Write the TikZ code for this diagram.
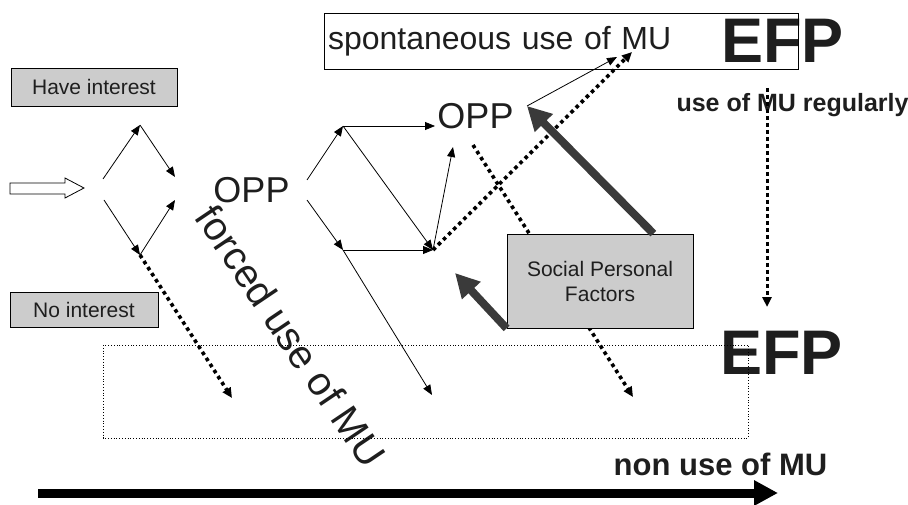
\documentclass[tikz,border=0pt]{standalone}
\usepackage{fontspec}
\setmainfont{Liberation Sans}
\usetikzlibrary{arrows.meta, positioning}

\definecolor{boxgray}{HTML}{CCCCCC}
\definecolor{heavygray}{HTML}{3A3A3A}
\definecolor{inkgray}{HTML}{1E1E1E}

\begin{document}
\begin{tikzpicture}[x=1pt, y=-1pt, text=inkgray,
    thinarrow/.style={-{Triangle[length=10pt, width=8pt]}, line width=0.8pt},
    dotarrow/.style={-{Triangle[length=10pt, width=9pt]}, line width=3.6pt, dash pattern=on 3.6pt off 3.6pt},
    heavyarrow/.style={-{Triangle[length=24pt, width=24pt]}, line width=8pt, draw=heavygray, fill=heavygray},
    graybox/.style={draw, fill=boxgray, line width=0.8pt, inner sep=2pt, font=\fontsize{21}{25}\selectfont}]
  \useasboundingbox (0,0) rectangle (908,505);

  % Big labels
  \node[font=\fontsize{63}{63}\selectfont\bfseries, anchor=base] (efptop) at (782.5,63) {EFP};
  \node[font=\fontsize{63}{63}\selectfont\bfseries, anchor=base] (efpbot) at (781.5,374) {EFP};
  \node[font=\fontsize{25}{25}\selectfont\bfseries, anchor=base] (regular) at (792.5,112) {use of MU regularly};
  \node[font=\fontsize{31}{31}\selectfont\bfseries, anchor=base] (nonuse) at (720.5,475) {non use of MU};
  \node[font=\fontsize{36}{36}\selectfont, anchor=base] (opp1) at (251.5,203) {OPP};
  \node[font=\fontsize{36}{36}\selectfont, anchor=base] (opp2) at (475.5,129) {OPP};
  \node[font=\fontsize{40}{40}\selectfont, rotate=-56] (forced) at (291,336) {forced use of MU};

  % Boxes
  \node[draw, line width=0.8pt, minimum height=56pt, text width=466pt, inner sep=4pt,
        font=\fontsize{32}{34}\selectfont] (spont) at (561,41) {spontaneous use of MU};
  \node[graybox, minimum width=166pt, minimum height=38pt] (have) at (94,87) {Have interest};
  \node[graybox, minimum width=148pt, minimum height=35pt] (nointr) at (84,309.5) {No interest};
  \draw[dotted, line width=0.8pt] (103,345) rectangle (748,438);

  % Junction points
  \coordinate (a1) at (103,179);
  \coordinate (a2) at (104,200);
  \coordinate (hi) at (140,125);
  \coordinate (lo) at (140,255);
  \coordinate (m1) at (175,177);
  \coordinate (m2) at (175,200);
  \coordinate (b1) at (307,180);
  \coordinate (b2) at (307,200);
  \coordinate (bt) at (343,126);
  \coordinate (bb) at (343,250);
  \coordinate (oppin) at (435,126);
  \coordinate (j) at (433,250);
  \coordinate (jup) at (453,147);
  \coordinate (down1) at (232,398);
  \coordinate (down2) at (432,395);
  \coordinate (down3) at (633,397);
  \coordinate (oppbot) at (473,145);
  \coordinate (oppout) at (527,106);
  \coordinate (spin) at (617,57);
  \coordinate (spdot) at (632,52);
  \coordinate (regtop) at (767,88);
  \coordinate (efpin) at (767,307);

  % Hollow entry arrow
  \draw[line width=0.8pt, fill=white] (10,183) -- (65,183) -- (65,178) -- (84,188)
    -- (65,198) -- (65,194) -- (10,194) -- cycle;

  % Interest split
  \draw[thinarrow] (a1) -- (hi);
  \draw[thinarrow] (hi) -- (m1);
  \draw[thinarrow] (a2) -- (lo);
  \draw[thinarrow] (lo) -- (m2);
  \draw[dotarrow] (lo) -- (down1);

  % Paths after first OPP
  \draw[thinarrow] (b1) -- (bt);
  \draw[thinarrow] (bt) -- (oppin);
  \draw[thinarrow] (bt) -- (j);
  \draw[thinarrow] (b2) -- (bb);
  \draw[thinarrow] (bb) -- (j);
  \draw[thinarrow] (bb) -- (down2);
  \draw[thinarrow] (j) -- (jup);
  \draw[dotarrow] (j) -- (spdot);
  \draw[thinarrow] (oppout) -- (spin);
  \draw[dotarrow] (oppbot) -- (down3);
  \draw[dotarrow, line width=3pt, dash pattern=on 4pt off 3pt] (regtop) -- (efpin);

  % Social personal factors
  \node[graybox, minimum width=186pt, minimum height=94pt, align=center] (spf) at (600,281)
    {Social Personal\\Factors};
  \draw[heavyarrow] ([xshift=-40pt]spf.north east) -- (oppout);
  \draw[heavyarrow] (spf.south west) -- (455,273);

  % Bottom axis
  \draw[-{Triangle[length=24pt, width=24pt]}, line width=9pt] (38,493) -- (778,493);
\end{tikzpicture}
\end{document}
